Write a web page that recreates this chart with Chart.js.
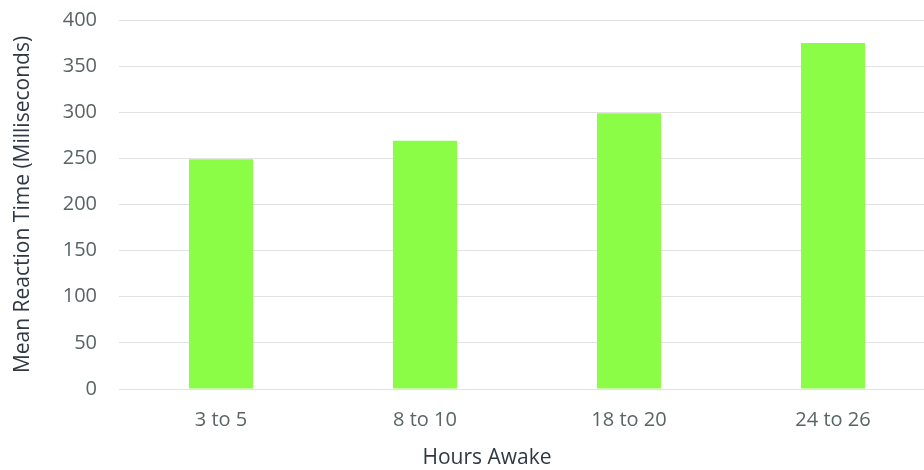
<!DOCTYPE html>
<html>
<head>
<meta charset="utf-8">
<script src="https://cdn.jsdelivr.net/npm/chart.js@4"></script>
<style>
  html, body { margin: 0; padding: 0; background: #ffffff; overflow: hidden; }
  #wrap { width: 940px; height: 470px; }
</style>
</head>
<body>
<div id="wrap"><canvas id="c"></canvas></div>
<script>
// Mean reaction time by hours awake
const categories = ['3 to 5', '8 to 10', '18 to 20', '24 to 26'];
const reactionMs = [249, 269, 299, 375];
const yTicks = [0, 50, 100, 150, 200, 250, 300, 350, 400];

const xTitleText = 'Hours Awake';
const yTitleText = 'Mean Reaction Time (Milliseconds)';

const fontFamily = '"Open Sans", "Noto Sans", sans-serif';

// Draws the horizontal axis title a bit left of the plot centre
const xTitlePlugin = {
  id: 'xTitle',
  afterDraw(chart) {
    const { ctx, chartArea } = chart;
    ctx.save();
    ctx.font = '21px ' + fontFamily;
    ctx.fillStyle = '#2f3944';
    ctx.textAlign = 'center';
    ctx.textBaseline = 'middle';
    const x = chartArea.left + (chartArea.right - chartArea.left) * 0.451;
    ctx.fillText(xTitleText, x, chart.height - 12);
    ctx.restore();
  }
};

new Chart(document.getElementById('c'), {
  type: 'bar',
  data: {
    labels: categories,
    datasets: [{
      data: reactionMs,
      backgroundColor: '#8cfd47',
      borderWidth: 0,
      categoryPercentage: 1.0,
      barPercentage: 0.314
    }]
  },
  options: {
    responsive: true,
    maintainAspectRatio: false,
    animation: false,
    layout: { padding: { top: 20, right: 5, left: 0, bottom: 0 } },
    plugins: {
      legend: { display: false },
      tooltip: { enabled: false }
    },
    scales: {
      x: {
        grid: { display: false, drawTicks: false },
        border: { display: true, color: '#e2e2e2', width: 1 },
        ticks: {
          color: '#586564',
          font: { family: fontFamily, size: 20 },
          padding: 19
        },
        afterFit(scale) {
          scale.height = 81;
          scale.paddingLeft = 0;
          scale.paddingRight = 0;
        }
      },
      y: {
        min: 0,
        max: 400,
        afterBuildTicks(scale) { scale.ticks = yTicks.map(v => ({ value: v })); },
        grid: { color: '#e2e2e2', lineWidth: 1, drawTicks: false },
        border: { display: false },
        ticks: {
          color: '#586564',
          font: { family: fontFamily, size: 20 },
          padding: 22
        },
        title: {
          display: true,
          text: yTitleText,
          color: '#2f3944',
          font: { family: fontFamily, size: 21 },
          padding: { top: 10, bottom: 0 }
        },
        afterFit(scale) {
          scale.width = 119;
          scale.paddingTop = 0;
          scale.paddingBottom = 0;
        }
      }
    }
  },
  plugins: [xTitlePlugin]
});
</script>
</body>
</html>
